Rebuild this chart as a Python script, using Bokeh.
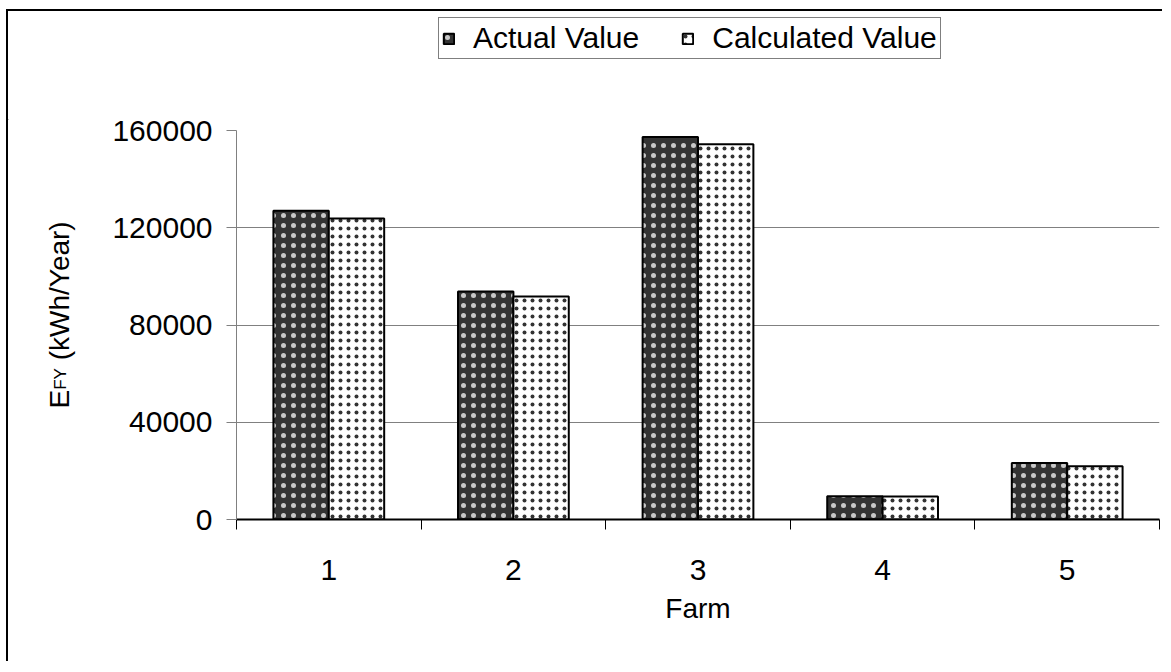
from bokeh.plotting import figure
from bokeh.models import (Range1d, FixedTicker, Legend, LegendItem,
                          ColumnDataSource, NumeralTickFormatter)
from bokeh.layouts import row, column
from bokeh.transform import dodge
from bokeh.core.properties import value
from bokeh.embed import file_html
from bokeh.resources import INLINE
import math

# ---- data ----
farms = [1, 2, 3, 4, 5]
actual = [127000, 93800, 157300, 9600, 23200]
calculated = [123800, 91700, 154300, 9500, 21900]
y_ticks = [0, 40000, 80000, 120000, 160000]
series_names = ["Actual Value", "Calculated Value"]
y_title_parts = ["E", "FY", "(kWh/Year)"]

FONT = "Liberation Sans"
WTOT = 1154
HL = 109            # strip with the legend (top)
HM = 541            # main row height
WT = 80             # strip with the y-axis title (left)
WM = WTOT - WT      # main chart width
FRAME_H = 389
B_TOP, B_BOTTOM = 10, HM - 10 - FRAME_H
FS = "30px"

DARK = dict(fill_color="#333333", line_color="black", line_width=2,
            hatch_pattern="dot", hatch_color="#c8c8c8", hatch_scale=10)
LIGHT = dict(fill_color="white", line_color="black", line_width=2,
             hatch_pattern="dot", hatch_color="#333333", hatch_scale=8)

# ---------------- main chart ----------------
p = figure(width=WM, height=HM, output_backend="svg", toolbar_location=None,
           x_range=Range1d(0.5, 5.5), y_range=Range1d(0, 160000),
           min_border_left=228 - WT, min_border_right=3, min_border_top=B_TOP,
           min_border_bottom=B_BOTTOM)
p.background_fill_color = "white"
p.border_fill_color = "white"
p.outline_line_color = None

src = ColumnDataSource(dict(farm=farms, actual=actual, calculated=calculated))
p.vbar(x=dodge("farm", -0.15, range=p.x_range), top="actual", width=0.3,
       source=src, **DARK)
p.vbar(x=dodge("farm", 0.15, range=p.x_range), top="calculated", width=0.3,
       source=src, **LIGHT)

boundaries = [f - 0.5 for f in farms] + [farms[-1] + 0.5]
xa = p.xaxis[0]
xa.ticker = FixedTicker(ticks=farms, minor_ticks=boundaries)
xa.major_tick_out = 0
xa.major_tick_in = 0
xa.minor_tick_out = 10
xa.minor_tick_in = 0
xa.minor_tick_line_color = "black"
xa.minor_tick_line_width = 1
xa.axis_line_color = "black"
xa.axis_line_width = 2
xa.major_label_standoff = 30
xa.major_label_text_font = FONT
xa.major_label_text_font_size = FS
xa.major_label_text_color = "black"
xa.axis_label = "Farm"
xa.axis_label_standoff = 10
xa.axis_label_text_font = FONT
xa.axis_label_text_font_size = "28px"
xa.axis_label_text_font_style = "normal"
xa.axis_label_text_color = "black"

ya = p.yaxis[0]
ya.ticker = FixedTicker(ticks=y_ticks)
ya.formatter = NumeralTickFormatter(format="0")
ya.major_tick_out = 10
ya.major_tick_in = 0
ya.minor_tick_out = 0
ya.minor_tick_in = 0
ya.axis_line_color = "#808080"
ya.major_tick_line_color = "#808080"
ya.major_label_standoff = 14
ya.major_label_text_font = FONT
ya.major_label_text_font_size = FS
ya.major_label_text_color = "black"

p.xgrid.visible = False
p.ygrid.grid_line_color = "#808080"
p.ygrid.grid_line_width = 1

# ---------------- legend strip ----------------
lf = figure(width=WTOT, height=HL, output_backend="svg", toolbar_location=None,
            x_range=Range1d(0, WTOT), y_range=Range1d(0, HL),
            x_axis_type=None, y_axis_type=None, min_border=0)
lf.background_fill_color = "white"
lf.border_fill_color = "white"
lf.outline_line_color = None
# off-screen proxies so the legend can draw its swatches
proxy = ColumnDataSource(dict(x=[-100], top=[0]))
l1 = lf.vbar(x="x", top="top", width=1, source=proxy, **DARK)
l2 = lf.vbar(x="x", top="top", width=1, source=proxy, **LIGHT)
legend = Legend(items=[LegendItem(label=series_names[0], renderers=[l1]),
                       LegendItem(label=series_names[1], renderers=[l2])],
                orientation="horizontal", location=(430, 61),
                border_line_color="black", border_line_width=1,
                background_fill_color="white", background_fill_alpha=1,
                label_text_font=FONT, label_text_font_size="30px",
                label_text_color="black",
                glyph_width=13, glyph_height=13, spacing=42, padding=3,
                label_standoff=18, margin=0)
lf.add_layout(legend, "center")

# ---------------- y-title strip ----------------
t = figure(width=WT, height=HM, output_backend="svg", toolbar_location=None,
           x_range=Range1d(0, WT), y_range=Range1d(0, FRAME_H),
           x_axis_type=None, y_axis_type=None, min_border_left=0,
           min_border_right=0, min_border_top=B_TOP, min_border_bottom=B_BOTTOM)
t.background_fill_color = "white"
t.border_fill_color = "white"
t.outline_line_color = None
big, small = 28, 17
x0, y0 = 51, 111
y1 = y0 + 0.667 * big
y2 = y1 + 1.278 * small + 0.278 * big
for txt, xx, yy, fs in [(y_title_parts[0], x0, y0, big),
                        (y_title_parts[1], x0 + 1, y1, small),
                        (y_title_parts[2], x0, y2, big)]:
    t.text(x=[xx], y=[yy], text=[txt], angle=math.pi / 2,
           text_font=value(FONT), text_font_size=value(f"{fs}px"),
           text_align="left", text_baseline="alphabetic", text_color="black")

layout = column(lf, row(t, p))
layout.styles = {"margin-left": "6px", "margin-top": "9px",
                 "border-left": "2px solid black", "border-top": "2px solid black"}

open("out.html", "w").write(file_html(layout, INLINE))
